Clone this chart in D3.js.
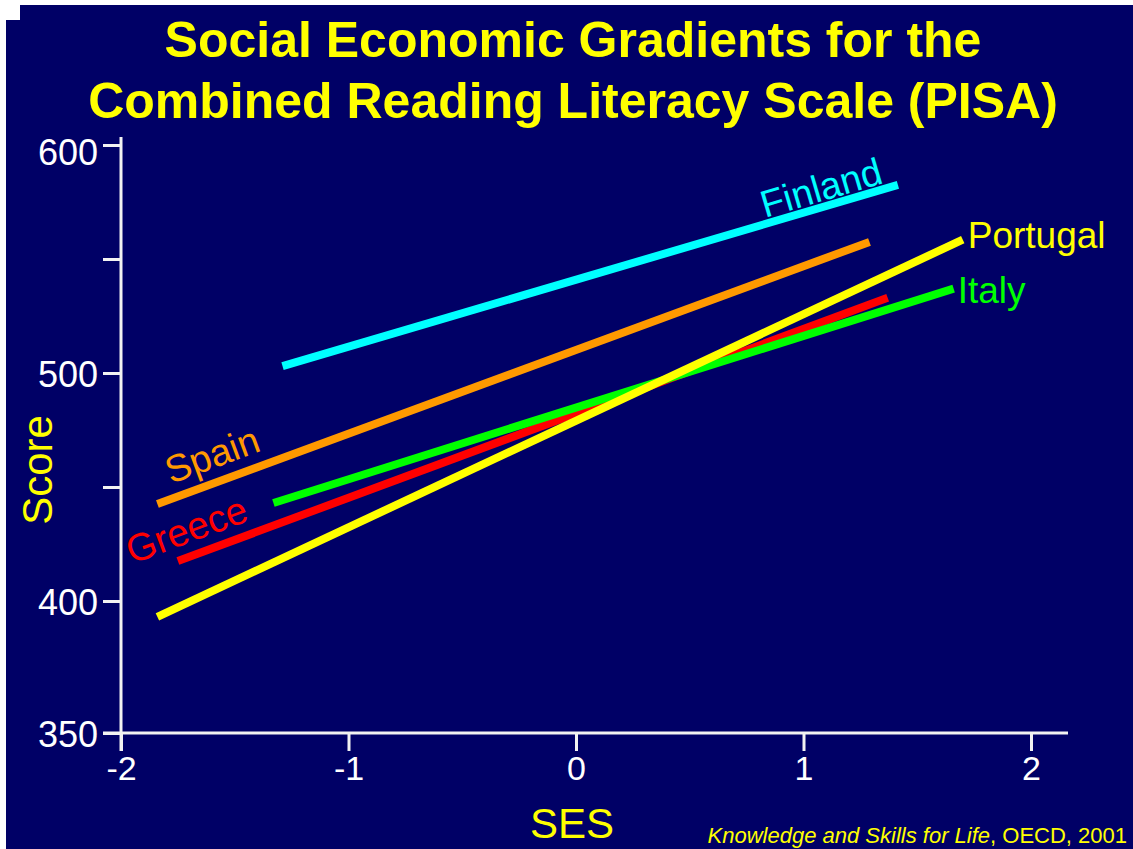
<!DOCTYPE html>
<html>
<head>
<meta charset="utf-8">
<script src="https://cdn.jsdelivr.net/npm/d3@7"></script>
<style>
  html, body { margin: 0; padding: 0; background: #ffffff; }
  svg { display: block; }
  text { font-family: "Liberation Sans", Arial, Helvetica, sans-serif; }
</style>
</head>
<body>
<svg id="chart" width="1133" height="849"></svg>
<script>
// PISA reading literacy: score vs. socio-economic status (SES) gradient lines
const countries  = ["Finland", "Spain", "Greece", "Italy", "Portugal"];
const sesStart   = [-1.29, -1.84, -1.75, -1.33, -1.84];
const sesEnd     = [1.415, 1.29, 1.37, 1.66, 1.70];
const scoreStart = [503, 442.5, 417.5, 443, 394];
const scoreEnd   = [582.5, 557.5, 533, 537, 558.5];

const xTickValues = [-2, -1, 0, 1, 2];
const yTickValues = [350, 400, 450, 500, 550, 600];
const yTickLabels = ["350", "400", "", "500", "", "600"];

const titleLines = ["Social Economic Gradients for the", "Combined Reading Literacy Scale (PISA)"];

const colors = {
  Finland: "#00ffff",
  Spain: "#ff9900",
  Greece: "#ff0000",
  Italy: "#00ff00",
  Portugal: "#ffff00"
};

const W = 1133, H = 849;
const svg = d3.select("#chart");

// slide background with a thin white frame
svg.append("rect").attr("width", W).attr("height", H).attr("fill", "#ffffff");
svg.append("rect").attr("x", 6).attr("y", 5).attr("width", W - 6).attr("height", H - 5).attr("fill", "#000066");
svg.append("rect").attr("x", 0).attr("y", 0).attr("width", 20).attr("height", 20).attr("fill", "#ffffff");

// scales; the score axis has a shortened stretch between 350 and 400
const x = d3.scaleLinear().domain([-2, 2]).range([121, 1031]);
const y = d3.scaleLinear().domain([350, 400, 600]).range([733, 601, 145]);

// title
svg.append("g").selectAll("text").data(titleLines).join("text")
  .attr("x", 573)
  .attr("y", (d, i) => 57 + i * 61)
  .attr("text-anchor", "middle")
  .attr("fill", "#ffff00")
  .attr("font-weight", "bold")
  .attr("font-size", 50)
  .text(d => d);

const axisColor = "#f2f2f2";

// y axis
const yAxis = svg.append("g")
  .attr("transform", `translate(${x(-2)},0)`)
  .call(d3.axisLeft(y).tickValues(yTickValues)
    .tickFormat(d => yTickLabels[yTickValues.indexOf(d)])
    .tickSize(18).tickSizeOuter(0).tickPadding(5));
yAxis.select(".domain").remove();
yAxis.selectAll(".tick line").attr("stroke", axisColor).attr("stroke-width", 3);
yAxis.selectAll(".tick text").attr("fill", "#ffffff").attr("font-size", 36)
  .attr("font-family", "'Liberation Sans', Arial, sans-serif")
  .attr("dy", d => d === 600 ? "0.55em" : "0.38em");

// x axis
const xAxis = svg.append("g")
  .attr("transform", `translate(0,${y(350)})`)
  .call(d3.axisBottom(x).tickValues(xTickValues).tickFormat(d => d < 0 ? "-" + Math.abs(d) : d).tickSize(18).tickSizeOuter(0).tickPadding(5));
xAxis.select(".domain").remove();
xAxis.selectAll(".tick line").attr("stroke", axisColor).attr("stroke-width", 3);
xAxis.selectAll(".tick text").attr("fill", "#ffffff").attr("font-size", 34)
  .attr("font-family", "'Liberation Sans', Arial, sans-serif");

// axis lines (extend slightly past the data range)
svg.append("line")
  .attr("x1", x(-2)).attr("x2", x(-2))
  .attr("y1", y(600) - 8).attr("y2", y(350) + 18)
  .attr("stroke", axisColor).attr("stroke-width", 3);
svg.append("line")
  .attr("x1", x(-2) - 18).attr("x2", x(2) + 37)
  .attr("y1", y(350)).attr("y2", y(350))
  .attr("stroke", axisColor).attr("stroke-width", 3);

// axis titles
svg.append("text")
  .attr("x", 572).attr("y", 838)
  .attr("text-anchor", "middle")
  .attr("fill", "#ffff00").attr("font-size", 42)
  .text("SES");
svg.append("text")
  .attr("transform", `translate(52,470) rotate(-90)`)
  .attr("text-anchor", "middle")
  .attr("fill", "#ffff00").attr("font-size", 42)
  .text("Score");

// gradient lines
const rows = countries.map((c, i) => ({
  name: c,
  x0: sesStart[i], y0: scoreStart[i],
  x1: sesEnd[i], y1: scoreEnd[i]
}));
const drawOrder = ["Finland", "Spain", "Greece", "Italy", "Portugal"];
svg.append("g").selectAll("line")
  .data(drawOrder.map(n => rows.find(r => r.name === n)))
  .join("line")
  .attr("x1", d => x(d.x0)).attr("y1", d => y(d.y0))
  .attr("x2", d => x(d.x1)).attr("y2", d => y(d.y1))
  .attr("stroke", d => colors[d.name])
  .attr("stroke-width", 8);

// labels that run along their line
const along = { Finland: { at: 0.831, lift: 6, size: 38 }, Spain: { at: -1.78, lift: 15, size: 38 }, Greece: { at: -1.952, lift: 14, size: 38.5 } };
Object.entries(along).forEach(([name, p]) => {
  const r = rows.find(d => d.name === name);
  const slope = (y(r.y1) - y(r.y0)) / (x(r.x1) - x(r.x0));
  const px = x(p.at);
  const py = y(r.y0) + (px - x(r.x0)) * slope - p.lift;
  const angle = Math.atan(slope) * 180 / Math.PI;
  svg.append("text")
    .attr("transform", `translate(${px},${py}) rotate(${angle})`)
    .attr("fill", colors[name]).attr("font-size", p.size)
    .text(name);
});

// labels at the right end of their line
const endLabels = { Portugal: { dx: 5, dy: 8 }, Italy: { dx: 4, dy: 14 } };
Object.entries(endLabels).forEach(([name, p]) => {
  const r = rows.find(d => d.name === name);
  svg.append("text")
    .attr("x", x(r.x1) + p.dx).attr("y", y(r.y1) + p.dy)
    .attr("fill", colors[name]).attr("font-size", 37)
    .text(name);
});

// source note
const note = svg.append("text")
  .attr("x", 1127).attr("y", 843)
  .attr("text-anchor", "end")
  .attr("fill", "#ffff00").attr("font-size", 22);
note.append("tspan").attr("font-style", "italic").text("Knowledge and Skills for Life");
note.append("tspan").text(", OECD, 2001");
</script>
</body>
</html>
